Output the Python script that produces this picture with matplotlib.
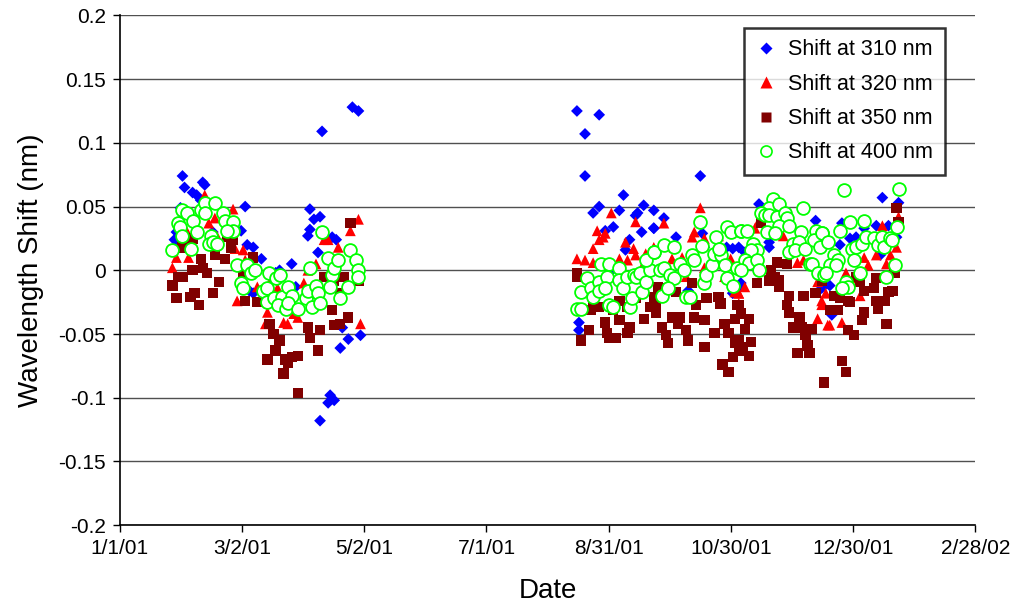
import matplotlib
matplotlib.use("Agg")
import matplotlib.pyplot as plt
from matplotlib.lines import Line2D

# x = days since 1/1/01, y = wavelength shift (nm)
d310 = [31,32,36,38,40,41,42,30,27,29,28,46,62,60,63,66,70,77,64,66,73,79,85,87,94,96,99,94,93,98,100,107,105,115,118,113,109,119,110,104,106,103,99,
        226,230,237,230,249,237,234,247,259,256,255,258,244,252,250,240,237,242,246,227,227,264,
        287,264,269,264,275,288,303,300,289,281,303,306,
        316,344,321,306,309,321,336,347,307,
        377,385,357,356,361,364,368,374,380,384,376,351,352]
v310 = [0.074,0.065,0.061,0.059,0.055,0.069,0.067,0.049,0.024,0.02,0.03,0.03,0.05,0.031,0.02,0.018,0.009,-0.002,-0.016,-0.018,-0.025,0.0,0.005,-0.013,0.048,0.04,0.042,0.032,0.027,0.014,0.109,0.024,0.026,0.128,0.125,-0.054,-0.061,-0.051,-0.045,-0.098,-0.102,-0.104,-0.118,
        0.125,0.107,0.122,0.074,0.059,0.05,0.045,0.047,0.051,0.045,0.043,0.03,0.034,0.024,0.016,0.031,0.005,-0.002,0.002,-0.041,-0.047,0.033,
        0.074,0.047,0.041,0.033,0.026,0.029,0.017,0.018,0.018,-0.016,-0.018,-0.013,
        0.052,0.039,0.018,0.018,0.014,0.022,0.016,-0.014,-0.01,
        0.057,0.053,0.037,0.02,0.025,0.026,0.033,0.035,0.035,0.026,0.012,-0.012,-0.035]

d320 = [42,56,33,44,47,48,26,28,34,57,61,62,58,68,73,72,81,83,86,88,93,97,101,103,108,114,118,119,91,96,78,74,113,
        243,255,236,234,239,240,237,250,254,226,230,234,247,251,255,260,264,259,
        287,269,284,283,289,296,274,264,278,296,302,273,280,299,304,306,289,
        316,328,314,321,335,338,345,347,345,350,309,306,306,
        385,377,381,384,374,368,370,379,359,364,349,366,351,357,347]
v320 = [0.059,0.048,0.031,0.037,0.041,0.027,0.002,0.01,0.01,0.017,0.016,0.008,-0.024,-0.013,-0.033,-0.042,-0.041,-0.042,-0.034,-0.037,0.0,0.005,0.024,0.024,0.018,0.031,0.04,-0.042,-0.01,-0.018,-0.014,-0.01,-0.013,
        0.045,0.038,0.031,0.017,0.026,0.029,0.024,0.022,0.017,0.009,0.008,0.006,0.009,0.008,0.012,0.013,0.017,0.005,
        0.049,0.037,0.03,0.026,0.025,0.027,0.018,0.018,0.01,0.02,0.009,0.009,-0.005,-0.005,-0.017,-0.018,0.002,
        0.039,0.027,0.033,0.031,0.006,0.008,-0.009,-0.027,-0.038,-0.043,-0.013,-0.018,-0.026,
        0.042,0.035,0.012,0.018,0.012,0.01,0.004,0.005,-0.002,-0.006,-0.018,-0.02,-0.043,-0.041,-0.024]

d350 = [29,26,28,35,37,39,40,36,41,43,47,49,46,52,53,56,55,31,36,61,62,68,66,31,
        74,76,79,77,73,82,85,88,81,83,88,93,94,99,98,105,106,109,113,101,106,109,114,118,111,
        226,226,228,232,237,233,240,244,241,242,247,251,252,259,262,255,251,264,234,247,245,
        266,270,265,268,270,271,273,275,276,277,280,281,283,285,284,289,290,289,294,296,297,299,301,304,303,301,298,304,305,265,
        317,325,322,324,326,326,321,315,330,331,330,331,336,337,333,339,340,341,335,338,342,344,347,306,307,311,309,312,308,311,306,306,348,
        384,385,383,374,382,380,373,368,366,364,374,378,375,368,367,379,353,356,360,351,355,361,360,363,357,359]
v350 = [-0.005,-0.012,-0.022,-0.021,-0.018,-0.027,0.009,0.0,0.002,-0.002,0.012,-0.009,-0.018,0.009,0.026,0.024,0.018,0.018,0.025,-0.002,-0.024,-0.025,0.01,-0.005,
        -0.042,-0.05,-0.055,-0.063,-0.07,-0.07,-0.068,-0.067,-0.081,-0.073,-0.096,-0.045,-0.053,-0.047,-0.063,-0.031,-0.043,-0.042,-0.037,-0.005,-0.008,-0.018,0.037,-0.008,-0.005,
        -0.002,-0.005,-0.055,-0.047,-0.029,-0.031,-0.041,-0.031,-0.049,-0.053,-0.039,-0.049,-0.045,-0.038,-0.029,-0.022,-0.029,-0.021,-0.025,-0.024,-0.053,
        -0.013,-0.014,-0.033,-0.045,-0.051,-0.057,-0.037,-0.017,-0.042,-0.037,-0.047,-0.055,-0.01,-0.027,-0.037,-0.039,-0.022,-0.06,-0.049,-0.021,-0.026,-0.042,-0.049,-0.057,-0.068,-0.08,-0.074,-0.038,-0.027,-0.027,
        0.037,0.006,0.0,-0.005,-0.008,-0.013,-0.008,-0.01,0.005,-0.02,-0.027,-0.033,-0.037,-0.045,-0.045,-0.051,-0.059,-0.065,-0.065,-0.02,-0.046,-0.018,-0.008,-0.027,-0.034,-0.038,-0.046,-0.056,-0.06,-0.067,-0.063,-0.055,-0.088,
        0.049,0.038,-0.002,-0.006,-0.016,-0.017,-0.014,-0.016,-0.009,-0.005,-0.024,-0.024,-0.03,-0.033,-0.039,-0.042,-0.02,-0.022,-0.024,-0.031,-0.031,-0.025,-0.047,-0.051,-0.071,-0.08]

d400 = [31,33,36,40,42,47,42,51,52,56,56,53,29,30,31,38,45,44,46,48,26,35,58,63,65,67,60,61,71,
        73,73,74,77,79,76,80,78,82,83,85,83,88,92,93,95,94,97,98,99,100,103,105,106,104,108,109,113,114,117,118,118,
        238,242,247,231,228,226,228,233,234,237,237,241,240,242,244,247,249,251,252,253,254,255,257,258,260,262,264,260,
        287,264,269,274,267,269,272,274,268,271,277,279,280,282,283,284,288,289,290,293,294,297,295,300,302,299,300,303,305,307,296,
        323,321,326,317,319,321,325,329,330,338,326,331,307,310,320,324,337,344,347,313,315,312,333,336,331,334,339,343,346,309,311,315,307,316,341,342,345,348,
        358,385,361,368,356,347,350,362,364,367,369,373,375,377,378,381,382,384,353,355,351,354,363,383,349,366,359,360,357,379]
v400 = [0.047,0.045,0.039,0.047,0.053,0.053,0.045,0.045,0.039,0.038,0.031,0.031,0.037,0.034,0.027,0.03,0.027,0.021,0.022,0.021,0.016,0.017,0.004,0.004,-0.002,0.0,-0.01,-0.014,-0.016,
        -0.014,-0.025,-0.002,-0.006,-0.004,-0.022,-0.021,-0.027,-0.03,-0.013,-0.02,-0.026,-0.03,-0.022,-0.016,-0.029,0.002,-0.012,-0.018,-0.026,0.03,0.01,-0.004,0.002,-0.013,0.008,-0.022,-0.013,0.016,0.008,0.0,-0.005,
        0.005,0.005,0.002,-0.006,-0.017,-0.03,-0.03,-0.014,-0.021,-0.009,-0.016,-0.005,-0.014,-0.027,-0.029,-0.008,-0.014,-0.005,-0.029,-0.022,-0.004,-0.005,-0.002,-0.017,-0.009,0.0,0.014,0.008,
        0.038,0.014,0.02,0.018,0.0,0.002,-0.004,-0.006,-0.02,-0.014,0.005,0.0,-0.021,-0.021,0.012,0.008,0.019,-0.01,-0.004,0.004,0.013,0.012,0.026,0.034,0.03,0.004,-0.006,-0.012,0.002,0.031,0.017,
        0.056,0.049,0.052,0.045,0.043,0.043,0.042,0.045,0.041,0.049,0.035,0.035,0.031,0.031,0.03,0.029,0.03,0.031,0.029,0.021,0.016,0.016,0.021,0.022,0.014,0.016,0.017,0.024,0.018,0.008,0.006,0.008,0.0,0.0,0.005,0.005,-0.002,-0.004,
        0.063,0.064,0.038,0.039,0.031,0.029,0.022,0.017,0.018,0.021,0.026,0.025,0.02,0.026,0.018,0.025,0.024,0.034,0.012,0.008,0.004,0.004,0.008,0.004,-0.002,-0.002,-0.009,-0.013,-0.014,-0.005]

x_tick_days = [0, 60.43, 120.86, 181.29, 241.71, 302.14, 362.57, 423]
x_tick_labels = ["1/1/01", "3/2/01", "5/2/01", "7/1/01", "8/31/01", "10/30/01", "12/30/01", "2/28/02"]
y_ticks = [-0.2, -0.15, -0.1, -0.05, 0, 0.05, 0.1, 0.15, 0.2]
y_tick_labels = ["-0.2", "-0.15", "-0.1", "-0.05", "0", "0.05", "0.1", "0.15", "0.2"]
series_labels = ["Shift at 310 nm", "Shift at 320 nm", "Shift at 350 nm", "Shift at 400 nm"]

plt.rcParams['font.family'] = ['Liberation Sans', 'DejaVu Sans']

fig = plt.figure(figsize=(10.15, 6.15), dpi=100)
ax = fig.add_axes([0.118, 0.146, 0.843, 0.829])

ax.set_xlim(0, 423)
ax.set_ylim(-0.2, 0.2)
for yv in y_ticks:
    ax.axhline(yv, color='#505050', lw=1.0, zorder=0)

ax.scatter(d310, v310, marker='D', s=36, color='#0000FF', edgecolors='none', zorder=2, label=series_labels[0])
ax.scatter(d320, v320, marker='^', s=60, color='#FF0000', edgecolors='none', zorder=3, label=series_labels[1])
ax.scatter(d350, v350, marker='s', s=55, color='#800000', edgecolors='none', zorder=4, label=series_labels[2])
ax.scatter(d400, v400, marker='o', s=85, facecolors='white', edgecolors='#00FF00', linewidths=1.3, zorder=5, label=series_labels[3])

ax.set_xticks(x_tick_days)
ax.set_xticklabels(x_tick_labels, fontsize=15)
ax.set_yticks(y_ticks)
ax.set_yticklabels(y_tick_labels, fontsize=15)
ax.tick_params(axis='both', direction='out', length=5, width=1, color='black', pad=5)

for s in ['top', 'right']:
    ax.spines[s].set_visible(False)
ax.spines['left'].set_color('black')
ax.spines['bottom'].set_color('black')
ax.spines['left'].set_linewidth(1.2)
ax.spines['bottom'].set_linewidth(1.2)

ax.set_xlabel("Date", fontsize=20, labelpad=14)
ax.set_ylabel("Wavelength Shift (nm)", fontsize=20, labelpad=10)

handles = [
    Line2D([], [], ls='none', marker='D', ms=6, color='#0000FF', mec='none'),
    Line2D([], [], ls='none', marker='^', ms=8, color='#FF0000', mec='none'),
    Line2D([], [], ls='none', marker='s', ms=7, color='#800000', mec='none'),
    Line2D([], [], ls='none', marker='o', ms=8, mfc='white', mec='#00FF00', mew=1.2),
]
leg = ax.legend(handles, series_labels, loc='upper right', bbox_to_anchor=(0.964, 0.976),
                borderaxespad=0, fontsize=15.5, frameon=True, fancybox=False,
                edgecolor='black', handlelength=1.0, handletextpad=0.5,
                labelspacing=0.62, borderpad=0.55)
leg.get_frame().set_linewidth(1.8)
leg.set_zorder(10)

fig.savefig("out.png", dpi=100)
